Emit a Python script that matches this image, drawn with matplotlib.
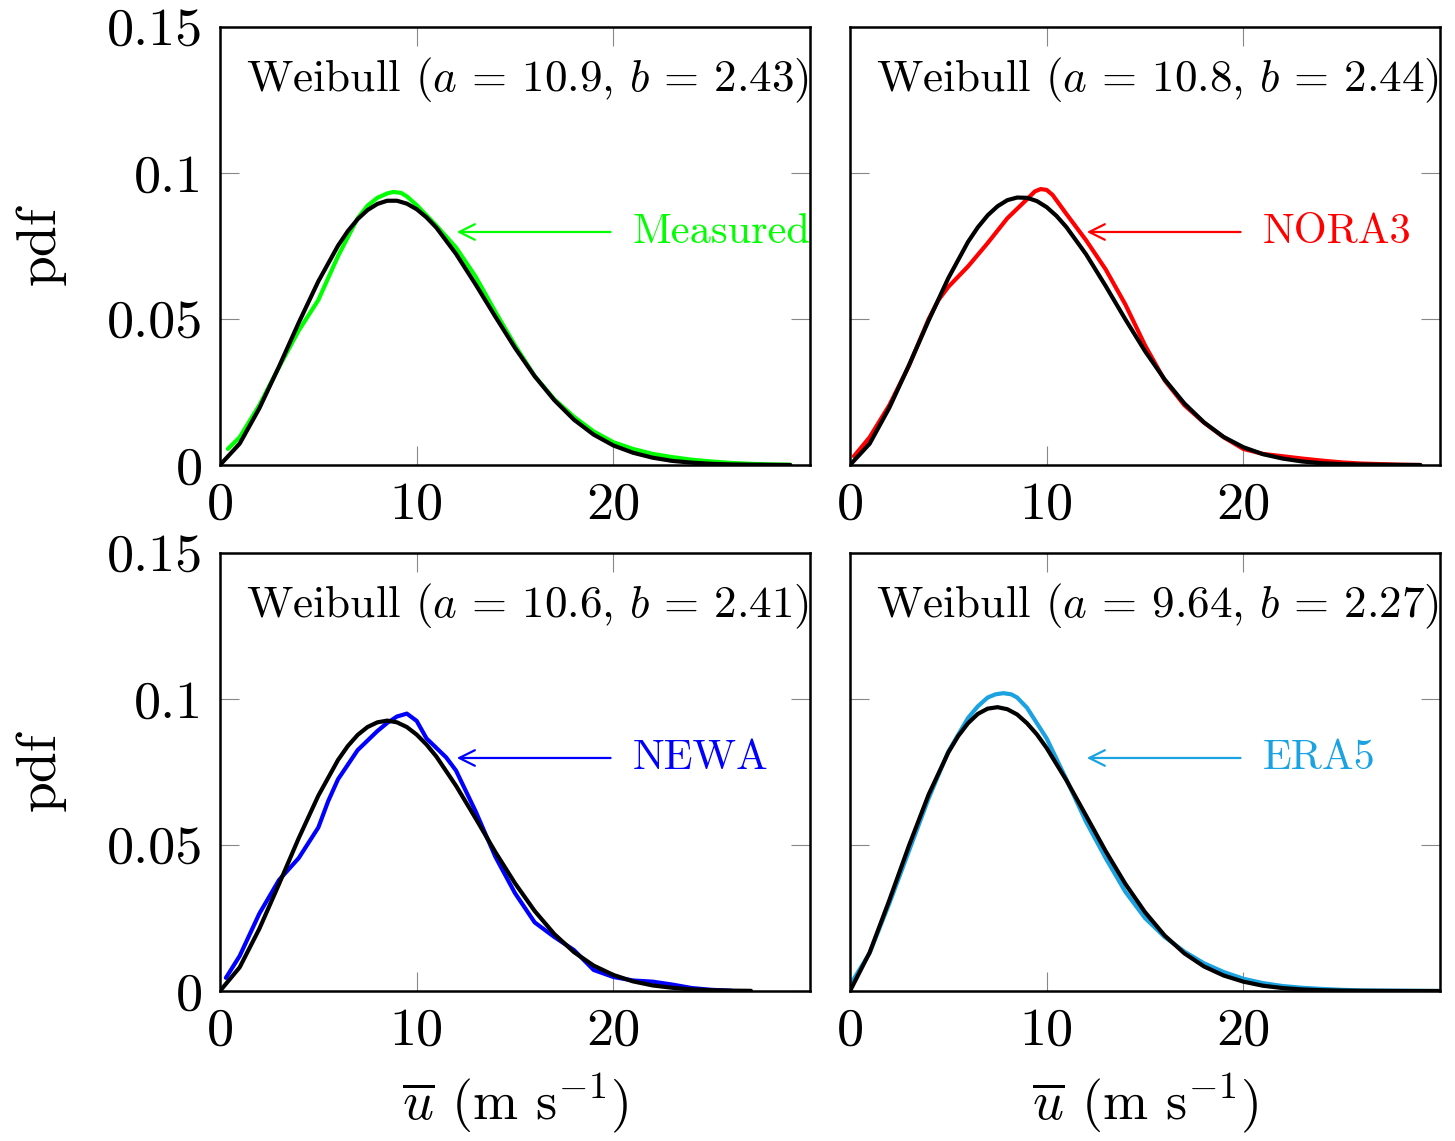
import matplotlib
matplotlib.use('Agg')
import matplotlib.pyplot as plt

plt.rcParams['font.family'] = 'serif'
plt.rcParams['font.serif'] = ['cmr10']
plt.rcParams['mathtext.fontset'] = 'cm'
plt.rcParams['axes.unicode_minus'] = False
plt.rcParams['axes.formatter.use_mathtext'] = True

# measured / reanalysis curves
meas_x = [0.4, 1, 2, 3, 4, 5, 6, 7, 7.5, 8, 8.5, 8.8, 9.2, 9.5, 10, 11, 12, 13, 14, 15, 16,
          17, 18, 19, 20, 21, 22, 23, 24, 25, 26, 27, 28, 29]
meas_y = [0.0055, 0.0095, 0.0205, 0.0335, 0.046, 0.0565, 0.0715, 0.0845, 0.0888, 0.0915,
          0.093, 0.0935, 0.0932, 0.092, 0.089, 0.082, 0.0745, 0.0645, 0.0525, 0.041, 0.0305,
          0.0225, 0.0165, 0.0115, 0.0078, 0.0055, 0.0038, 0.0027, 0.0018, 0.0012, 0.0007,
          0.0004, 0.0002, 0.0001]

nora_x = [0.2, 1, 2, 3, 4, 4.5, 5, 6, 7, 8, 9, 9.4, 9.7, 10, 10.3, 11, 12, 13, 14, 15, 16,
          17, 18, 19, 20, 21, 22, 23, 24, 25, 26, 27, 28, 29]
nora_y = [0.003, 0.0095, 0.0205, 0.034, 0.050, 0.0565, 0.061, 0.068, 0.076, 0.0845, 0.091,
          0.0937, 0.0945, 0.0942, 0.0925, 0.086, 0.077, 0.067, 0.055, 0.041, 0.029, 0.0205,
          0.0145, 0.0095, 0.0055, 0.0038, 0.0030, 0.0022, 0.0015, 0.0009, 0.0005, 0.0003,
          0.0001, 0.0]

newa_x = [0.3, 1, 2, 3, 4, 5, 5.5, 6, 7, 8, 8.5, 9, 9.5, 10, 10.5, 11.5, 12, 13, 14, 15,
          16, 17, 18, 19, 20, 21, 22, 23, 24, 25, 26]
newa_y = [0.0045, 0.012, 0.0265, 0.038, 0.0455, 0.056, 0.065, 0.0725, 0.0825, 0.089,
          0.0918, 0.094, 0.095, 0.0925, 0.0865, 0.080, 0.0755, 0.0615, 0.046, 0.0335,
          0.0235, 0.0185, 0.014, 0.0072, 0.0048, 0.0036, 0.0032, 0.0022, 0.0010, 0.0004,
          0.0001]

era_x = [0, 1, 2, 3, 4, 5, 6, 6.5, 7, 7.4, 7.8, 8.2, 8.5, 9, 10, 11, 12, 13, 14, 15, 16,
         17, 18, 19, 20, 21, 22, 23, 24, 25, 26, 28, 30]
era_y = [0.002, 0.013, 0.030, 0.048, 0.066, 0.082, 0.0935, 0.0975, 0.1005, 0.1016, 0.102,
         0.1016, 0.1005, 0.097, 0.0865, 0.0725, 0.058, 0.0455, 0.034, 0.025, 0.0185,
         0.0135, 0.0095, 0.0065, 0.0042, 0.0027, 0.0017, 0.0011, 0.0007, 0.0004, 0.0002,
         0.0001, 0.0]

# fitted weibull curves
wb1_x = [0, 1, 2, 3, 4, 5, 6, 6.5, 7, 7.5, 8, 8.5, 9, 9.5, 10, 10.5, 11, 12, 13, 14, 15,
         16, 17, 18, 19, 20, 21, 22, 23, 24, 25, 26, 27, 28, 29]
wb1_y = [0, 0.0073, 0.0194, 0.0337, 0.0487, 0.0629, 0.0751, 0.0801, 0.0842, 0.0873,
         0.0894, 0.0905, 0.0905, 0.0895, 0.0876, 0.0848, 0.0813, 0.0723, 0.0618, 0.0508,
         0.0401, 0.0304, 0.0222, 0.0155, 0.0104, 0.0067, 0.0042, 0.0025, 0.0014, 0.0008,
         0.0004, 0.0002, 0.0001, 0.00005, 0.0]
wb2_x = wb1_x
wb2_y = [0, 0.0073, 0.0196, 0.0342, 0.0495, 0.0640, 0.0764, 0.0814, 0.0855, 0.0886,
         0.0907, 0.0916, 0.0915, 0.0904, 0.0883, 0.0853, 0.0815, 0.0722, 0.0613, 0.0499,
         0.0390, 0.0293, 0.0211, 0.0146, 0.0096, 0.0061, 0.0037, 0.0022, 0.0012, 0.0006,
         0.0003, 0.00015, 0.00007, 0.00003, 0.0]
wb3_x = [0, 1, 2, 3, 4, 5, 6, 6.5, 7, 7.5, 8, 8.5, 9, 9.5, 10, 10.5, 11, 12, 13, 14, 15,
         16, 17, 18, 19, 20, 21, 22, 23, 24, 25, 26, 27]
wb3_y = [0, 0.0081, 0.0213, 0.0366, 0.0523, 0.0669, 0.0791, 0.0839, 0.0877, 0.0904,
         0.0920, 0.0926, 0.0920, 0.0904, 0.0878, 0.0844, 0.0803, 0.0703, 0.0591, 0.0476,
         0.0369, 0.0274, 0.0195, 0.0133, 0.0087, 0.0055, 0.0033, 0.0019, 0.0011, 0.00055,
         0.00027, 0.00013, 0.00006]
wb4_x = [0, 1, 2, 3, 4, 5, 5.5, 6, 6.5, 7, 7.5, 8, 8.5, 9, 9.5, 10, 11, 12, 13, 14, 15,
         16, 17, 18, 19, 20, 21, 22, 23, 24, 25, 26, 27, 28, 30]
wb4_y = [0, 0.0132, 0.0311, 0.0498, 0.0673, 0.0817, 0.0873, 0.0917, 0.0949, 0.0967,
         0.0972, 0.0965, 0.0947, 0.0917, 0.0879, 0.0832, 0.0722, 0.0601, 0.0479, 0.0367,
         0.0270, 0.0190, 0.0129, 0.0084, 0.0053, 0.0032, 0.0018, 0.0010, 0.00053, 0.00027,
         0.00013, 0.00006, 0.00003, 0.00001, 0.0]

titles = [r'Weibull ($a$ = 10.9, $b$ = 2.43)', r'Weibull ($a$ = 10.8, $b$ = 2.44)',
          r'Weibull ($a$ = 10.6, $b$ = 2.41)', r'Weibull ($a$ = 9.64, $b$ = 2.27)']
names = ['Measured', 'NORA3', 'NEWA', 'ERA5']
colors = ['#00ff00', '#ff0000', '#0000ff', '#1aa3e0']
data_x = [meas_x, nora_x, newa_x, era_x]
data_y = [meas_y, nora_y, newa_y, era_y]
wb_x = [wb1_x, wb2_x, wb3_x, wb4_x]
wb_y = [wb1_y, wb2_y, wb3_y, wb4_y]

fig = plt.figure(figsize=(14.55, 11.41), dpi=100)
W, H = 1455, 1141
boxes = [(220, 27), (850, 27), (220, 553), (850, 553)]
aw, ah = 590, 438

for i in range(4):
    l, t = boxes[i]
    ax = fig.add_axes([l / W, 1 - (t + ah) / H, aw / W, ah / H])
    ax.plot(data_x[i], data_y[i], color=colors[i], lw=3.0,
            solid_joinstyle='round', solid_capstyle='round')
    ax.plot(wb_x[i], wb_y[i], color='black', lw=3.0,
            solid_joinstyle='round', solid_capstyle='round')
    ax.set_xlim(0, 30)
    ax.set_ylim(0, 0.15)
    ax.set_xticks([0, 10, 20])
    ax.set_xticklabels(['0', '10', '20'])
    ax.set_yticks([0, 0.05, 0.1, 0.15])
    if i % 2 == 0:
        ax.set_yticklabels(['0', '0.05', '0.1', '0.15'])
        ax.set_ylabel('pdf', fontsize=40, labelpad=30)
    else:
        ax.set_yticklabels([])
    ax.tick_params(direction='in', length=14, width=0.8, color='#888888',
                   top=True, right=True, labelsize=39, pad=12)
    for s in ax.spines.values():
        s.set_linewidth(1.8)
    ax.text(1.3, 0.1318, titles[i], fontsize=32.5, va='center', ha='left')
    ax.annotate('', xy=(11.9, 0.0798), xytext=(20.0, 0.0798),
                arrowprops=dict(arrowstyle='->', color=colors[i], lw=1.6,
                                mutation_scale=28))
    ax.text(21.0, 0.0798, names[i], color=colors[i], fontsize=30.5, va='center', ha='left')
    if i >= 2:
        ax.set_xlabel(r'$\overline{u}$ (m s$^{-1}$)', fontsize=39, labelpad=12)

fig.savefig('out.png', dpi=100)
